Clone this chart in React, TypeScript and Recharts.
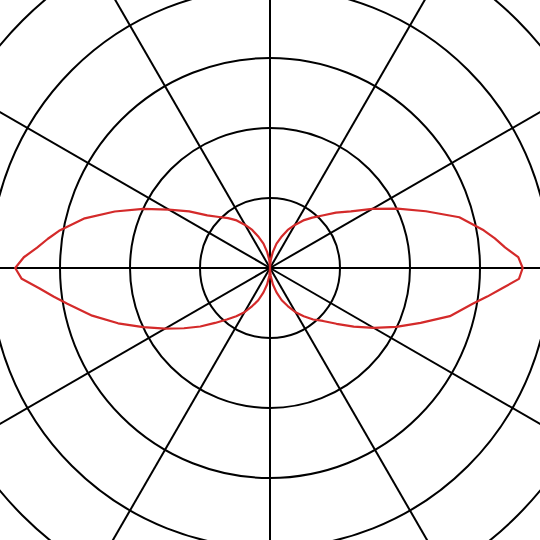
import { RadarChart, Radar, PolarGrid, PolarAngleAxis, PolarRadiusAxis } from 'recharts';

// angle of each sample, degrees (counter-clockwise from the right); finer near the two tips
const ANGLES = [
  0, 2.5, 5, 7.5, 10, 15, 20, 25, 30, 35, 40, 45, 50, 55, 60, 65, 70, 75, 80, 85,
  90, 95, 100, 105, 110, 115, 120, 125, 130, 135, 140, 145, 150, 155, 160, 165, 170, 172.5, 175, 177.5,
  180, 182.5, 185, 187.5, 190, 195, 200, 205, 210, 215, 220, 225, 230, 235, 240, 245, 250, 255, 260, 265,
  270, 275, 280, 285, 290, 295, 300, 305, 310, 315, 320, 325, 330, 335, 340, 345, 350, 352.5, 355, 357.5,
];

// pattern magnitude (one ring = 1)
const GAIN = [
  3.61, 3.55, 3.37, 3.24, 3.1, 2.8, 2.37, 2.01, 1.69, 1.41, 1.23, 1.06, 0.94, 0.83, 0.71, 0.6, 0.47, 0.36, 0.23, 0.11,
  0, 0.11, 0.23, 0.36, 0.47, 0.6, 0.71, 0.83, 0.93, 1.03, 1.17, 1.41, 1.67, 2.0, 2.36, 2.74, 3.06, 3.2, 3.34, 3.52,
  3.64, 3.55, 3.31, 3.12, 2.94, 2.63, 2.31, 2.0, 1.73, 1.5, 1.3, 1.11, 0.96, 0.84, 0.73, 0.6, 0.49, 0.36, 0.24, 0.11,
  0, 0.11, 0.24, 0.36, 0.49, 0.6, 0.73, 0.84, 0.96, 1.07, 1.24, 1.46, 1.71, 1.99, 2.29, 2.66, 2.94, 3.13, 3.33, 3.56,
];

const SPOKE_ANGLES = [0, 30, 60, 90, 120, 150, 180, 210, 240, 270, 300, 330];
const RING_TICKS = [0, 1, 2, 3, 4, 5];

const data = ANGLES.map((angle, i) => ({ angle, gain: GAIN[i] }));

export default function App() {
  return (
    <div style={{ position: 'absolute', left: 0, top: 0, width: 540, height: 540, background: '#fff' }}>
      <RadarChart
        width={540}
        height={540}
        data={data}
        cx={270}
        cy={268}
        outerRadius={350}
        startAngle={0}
        endAngle={360}
        margin={{ top: 0, right: 0, bottom: 0, left: 0 }}
      >
        <PolarGrid gridType="circle" polarAngles={SPOKE_ANGLES} stroke="#000" strokeWidth={2} />
        <PolarAngleAxis dataKey="angle" type="number" domain={[0, 360]} tick={false} axisLine={false} />
        <PolarRadiusAxis domain={[0, 5]} ticks={RING_TICKS} tick={false} axisLine={false} />
        <Radar
          dataKey="gain"
          stroke="#d42a2a"
          strokeWidth={2.2}
          strokeLinejoin="round"
          fill="none"
          fillOpacity={0}
          dot={false}
          isAnimationActive={false}
        />
      </RadarChart>
    </div>
  );
}
